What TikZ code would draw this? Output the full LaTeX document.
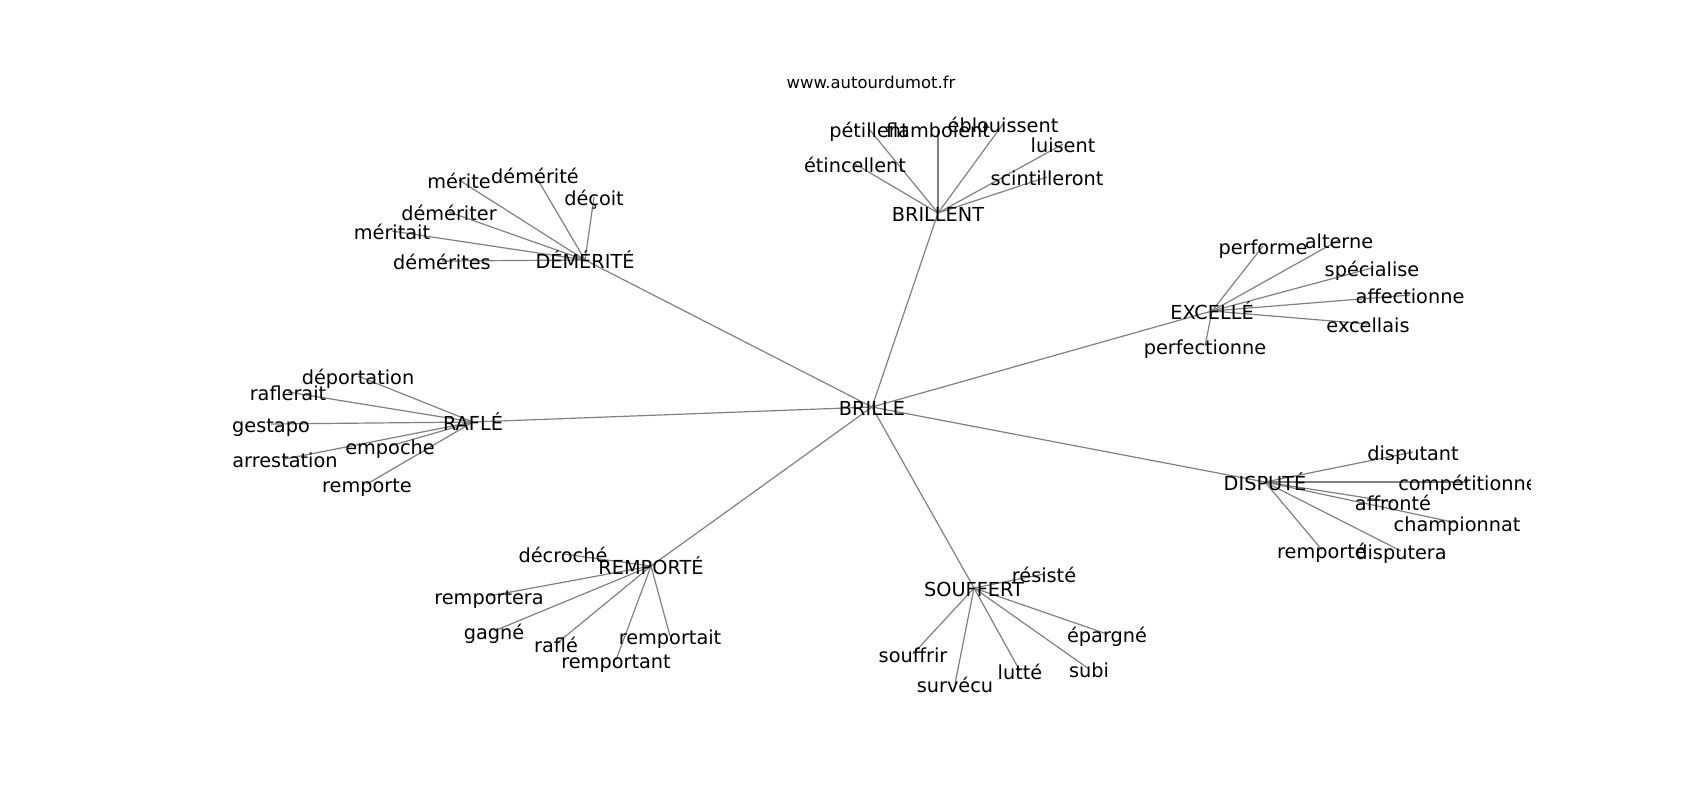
\documentclass[tikz,border=0pt]{standalone}
\usepackage{fontspec}
\setmainfont{DejaVu Sans}
\definecolor{edgegray}{HTML}{808080}
\tikzset{
  lbl/.style={font=\fontsize{9.65}{11}\selectfont, inner sep=0pt, text height=7.3pt, text depth=2.3pt, anchor=center, yshift=-1.6pt},
  ttl/.style={font=\fontsize{8.2}{10}\selectfont, inner sep=0pt, anchor=center},
  edge/.style={draw=edgegray, line width=0.6pt}
}
\begin{document}
\begin{tikzpicture}[x=0.5pt,y=-0.5pt]
\useasboundingbox (0,0) rectangle (1700,800);
\node[ttl] (title) at (871,82) {www.autourdumot.fr};
\begin{scope}
\clip (212.5,96) rectangle (1530,712);
% hubs
\coordinate (brille) at (872,407);
\coordinate (brillent) at (938,213);
\coordinate (demerite) at (585,260);
\coordinate (excelle) at (1212,311);
\coordinate (rafle) at (473,422);
\coordinate (dispute) at (1265,482);
\coordinate (remporte) at (651,566);
\coordinate (souffert) at (974,588);
% BRILLENT children
\coordinate (etincellent) at (855,164);
\coordinate (petillent) at (869,129);
\coordinate (flamboient) at (938,129);
\coordinate (eblouissent) at (1003,124);
\coordinate (luisent) at (1063,144);
\coordinate (scintilleront) at (1047,177);
% DEMERITE children
\coordinate (merite) at (459,180);
\coordinate (demerite2) at (535,175);
\coordinate (decoit) at (594,197);
\coordinate (demeriter) at (449,212);
\coordinate (meritait) at (392,231);
\coordinate (demerites) at (442,261);
% EXCELLE children
\coordinate (performe) at (1263,246);
\coordinate (alterne) at (1339,240);
\coordinate (specialise) at (1372,268);
\coordinate (affectionne) at (1410,295);
\coordinate (excellais) at (1368,324);
\coordinate (perfectionne) at (1205,346);
% RAFLE children
\coordinate (deportation) at (358,376);
\coordinate (raflerait) at (288,392);
\coordinate (gestapo) at (271,424);
\coordinate (empoche) at (390,446);
\coordinate (arrestation) at (285,459);
\coordinate (remporteA) at (367,484);
% DISPUTE children
\coordinate (disputant) at (1413,452);
\coordinate (competitionne) at (1468,482);
\coordinate (affronte) at (1393,502);
\coordinate (championnat) at (1457,523);
\coordinate (remporteB) at (1322,550);
\coordinate (disputera) at (1401,551);
% REMPORTE children
\coordinate (decroche) at (563,554);
\coordinate (remportera) at (489,596);
\coordinate (gagne) at (494,631);
\coordinate (rafle2) at (556,644);
\coordinate (remportant) at (616,660);
\coordinate (remportait) at (670,636);
% SOUFFERT children
\coordinate (resiste) at (1044,574);
\coordinate (epargne) at (1107,634);
\coordinate (souffrir) at (913,654);
\coordinate (survecu) at (955,684);
\coordinate (lutte) at (1020,671);
\coordinate (subi) at (1089,669);
% edges
\foreach \h in {brillent,demerite,excelle,rafle,dispute,remporte,souffert}
  \draw[edge] (brille) -- (\h);
\foreach \c in {etincellent,petillent,flamboient,eblouissent,luisent,scintilleront}
  \draw[edge] (brillent) -- (\c);
\foreach \c in {merite,demerite2,decoit,demeriter,meritait,demerites}
  \draw[edge] (demerite) -- (\c);
\foreach \c in {performe,alterne,specialise,affectionne,excellais,perfectionne}
  \draw[edge] (excelle) -- (\c);
\foreach \c in {deportation,raflerait,gestapo,empoche,arrestation,remporteA}
  \draw[edge] (rafle) -- (\c);
\foreach \c in {disputant,competitionne,affronte,championnat,remporteB,disputera}
  \draw[edge] (dispute) -- (\c);
\foreach \c in {decroche,remportera,gagne,rafle2,remportant,remportait}
  \draw[edge] (remporte) -- (\c);
\foreach \c in {resiste,epargne,souffrir,survecu,lutte,subi}
  \draw[edge] (souffert) -- (\c);
% labels
\node[lbl] (Lbrille) at (brille) {BRILLE};
\node[lbl] (Lbrillent) at (brillent) {BRILLENT};
\node[lbl] (Ldemerite) at (demerite) {DÉMÉRITÉ};
\node[lbl] (Lexcelle) at (excelle) {EXCELLÉ};
\node[lbl] (Lrafle) at (rafle) {RAFLÉ};
\node[lbl] (Ldispute) at (dispute) {DISPUTÉ};
\node[lbl] (Lremporte) at (remporte) {REMPORTÉ};
\node[lbl] (Lsouffert) at (souffert) {SOUFFERT};
\node[lbl] (Letincellent) at (etincellent) {étincellent};
\node[lbl] (Lpetillent) at (petillent) {pétillent};
\node[lbl] (Lflamboient) at (flamboient) {flamboient};
\node[lbl] (Leblouissent) at (eblouissent) {éblouissent};
\node[lbl] (Lluisent) at (luisent) {luisent};
\node[lbl] (Lscintilleront) at (scintilleront) {scintilleront};
\node[lbl] (Lmerite) at (merite) {mérite};
\node[lbl] (Ldemerite2) at (demerite2) {démérité};
\node[lbl] (Ldecoit) at (decoit) {déçoit};
\node[lbl] (Ldemeriter) at (demeriter) {démériter};
\node[lbl] (Lmeritait) at (meritait) {méritait};
\node[lbl] (Ldemerites) at (demerites) {démérites};
\node[lbl] (Lperforme) at (performe) {performe};
\node[lbl] (Lalterne) at (alterne) {alterne};
\node[lbl] (Lspecialise) at (specialise) {spécialise};
\node[lbl] (Laffectionne) at (affectionne) {affectionne};
\node[lbl] (Lexcellais) at (excellais) {excellais};
\node[lbl] (Lperfectionne) at (perfectionne) {perfectionne};
\node[lbl] (Ldeportation) at (deportation) {déportation};
\node[lbl] (Lraflerait) at (raflerait) {raflerait};
\node[lbl] (Lgestapo) at (gestapo) {gestapo};
\node[lbl] (Lempoche) at (empoche) {empoche};
\node[lbl] (Larrestation) at (arrestation) {arrestation};
\node[lbl] (LremporteA) at (remporteA) {remporte};
\node[lbl] (Ldisputant) at (disputant) {disputant};
\node[lbl] (Lcompetitionne) at (competitionne) {compétitionne};
\node[lbl] (Laffronte) at (affronte) {affronté};
\node[lbl] (Lchampionnat) at (championnat) {championnat};
\node[lbl] (LremporteB) at (remporteB) {remporté};
\node[lbl] (Ldisputera) at (disputera) {disputera};
\node[lbl] (Ldecroche) at (decroche) {décroché};
\node[lbl] (Lremportera) at (remportera) {remportera};
\node[lbl] (Lgagne) at (gagne) {gagné};
\node[lbl] (Lrafle2) at (rafle2) {raflé};
\node[lbl] (Lremportant) at (remportant) {remportant};
\node[lbl] (Lremportait) at (remportait) {remportait};
\node[lbl] (Lresiste) at (resiste) {résisté};
\node[lbl] (Lepargne) at (epargne) {épargné};
\node[lbl] (Lsouffrir) at (souffrir) {souffrir};
\node[lbl] (Lsurvecu) at (survecu) {survécu};
\node[lbl] (Llutte) at (lutte) {lutté};
\node[lbl] (Lsubi) at (subi) {subi};
\end{scope}
\end{tikzpicture}
\end{document}
